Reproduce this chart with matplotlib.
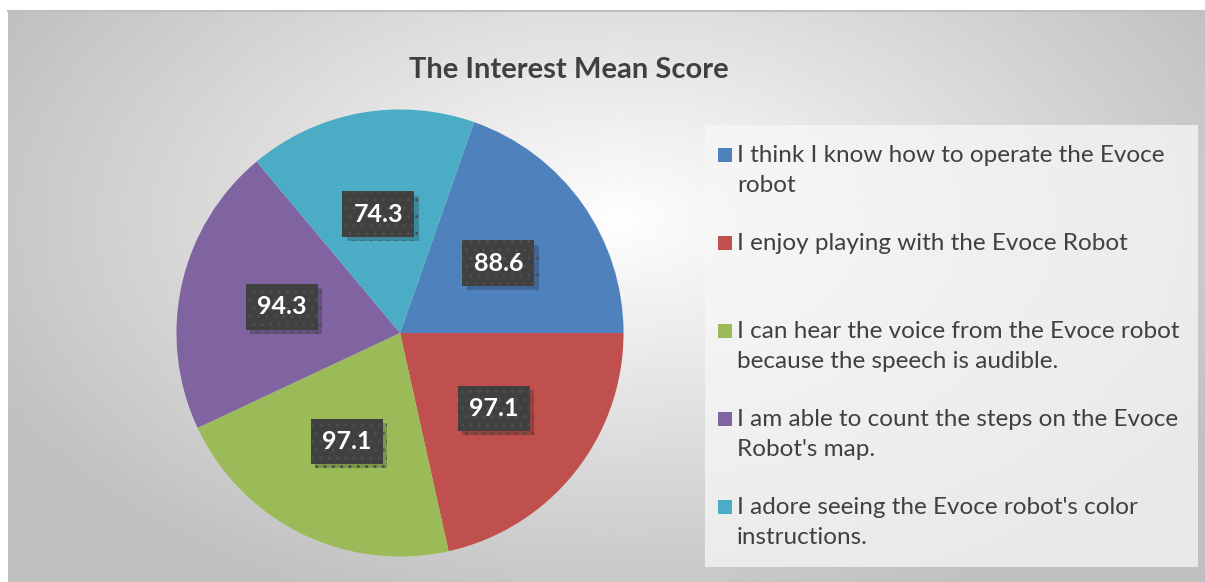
import matplotlib.pyplot as plt
import matplotlib.patheffects as pe
import numpy as np

plt.rcParams['font.family'] = ['Lato', 'DejaVu Sans']

# data
labels = ["I think I know how to operate the Evoce\nrobot",
          "I enjoy playing with the Evoce Robot",
          "I can hear the voice from the Evoce robot\nbecause the speech is audible.",
          "I am able to count the steps on the Evoce\nRobot's map.",
          "I adore seeing the Evoce robot's color\ninstructions."]
scores = [88.6, 97.1, 97.1, 94.3, 74.3]
colors = ['#4f81bd', '#c0504d', '#9bbb59', '#8064a2', '#4bacc6']

W, H = 1205, 582
fig = plt.figure(figsize=(W / 100, H / 100), dpi=100)
fig.patch.set_facecolor('white')

# gradient background of the chart area
bg = fig.add_axes([8 / W, 0, 1 - 8 / W, (H - 11) / H])
xx, yy = np.meshgrid(np.linspace(8, W, 400), np.linspace(11, H, 200))
d = np.sqrt(((xx - 620) / 720) ** 2 + ((yy - 220) / 430) ** 2)
shade = np.clip(0.995 - 0.25 * d, 0.75, 1)
bg.imshow(shade, cmap='gray', vmin=0, vmax=1, aspect='auto',
          extent=[0, 1, 0, 1], interpolation='bilinear')
bg.set_xlim(0, 1)
bg.set_ylim(0, 1)
bg.axis('off')
fig.add_artist(plt.Line2D([8 / W, 1], [1 - 11 / H, 1 - 11 / H],
                          color='#bfbfbf', lw=1.5))

# pie
cx, cy, r = 400, 333, 228
ax = fig.add_axes([(cx - r) / W, (H - cy - r) / H, 2 * r / W, 2 * r / H])
total = sum(scores)
start = 360 * scores[0] / total
wedges, _, autotexts = ax.pie(scores, colors=colors, startangle=start,
                              counterclock=False, radius=1,
                              autopct=lambda p: '%.1f' % (p * total / 100),
                              pctdistance=0.54,
                              wedgeprops=dict(linewidth=0))
ax.set_xlim(-1.02, 1.02)
ax.set_ylim(-1.02, 1.02)

for t in autotexts:
    t.set_fontsize(18)
    t.set_fontweight('bold')
    t.set_color('white')
    t.set_bbox(dict(boxstyle='square,pad=0.45', facecolor='#404040',
                    edgecolor='#4d4d4d', linewidth=0, hatch='..'))
    t.get_bbox_patch().set_path_effects([
        pe.SimplePatchShadow(offset=(3, -3), shadow_rgbFace='black', alpha=0.2),
        pe.Normal()])

# title
fig.text(569 / W, 1 - 70 / H, 'The Interest Mean Score', ha='center',
         va='center', fontsize=21, fontweight='bold', color='#404040')

# legend box
lx0, ly0, lx1, ly1 = 705, 125, 1198, 567
fig.add_artist(plt.Rectangle((lx0 / W, 1 - ly1 / H), (lx1 - lx0) / W,
                             (ly1 - ly0) / H, transform=fig.transFigure,
                             facecolor='#f7f7f7', alpha=0.75, linewidth=0))
for i, (lab, c) in enumerate(zip(labels, colors)):
    ty = 155 + 88 * i
    fig.add_artist(plt.Rectangle((718 / W, 1 - (ty + 7) / H), 14 / W, 14 / H,
                                 transform=fig.transFigure, facecolor=c,
                                 linewidth=0))
    fig.text(737 / W, 1 - (ty - 10) / H, lab, ha='left', va='top',
             fontsize=17.5, color='#404040', linespacing=1.55)

fig.savefig('out.png', dpi=100)
